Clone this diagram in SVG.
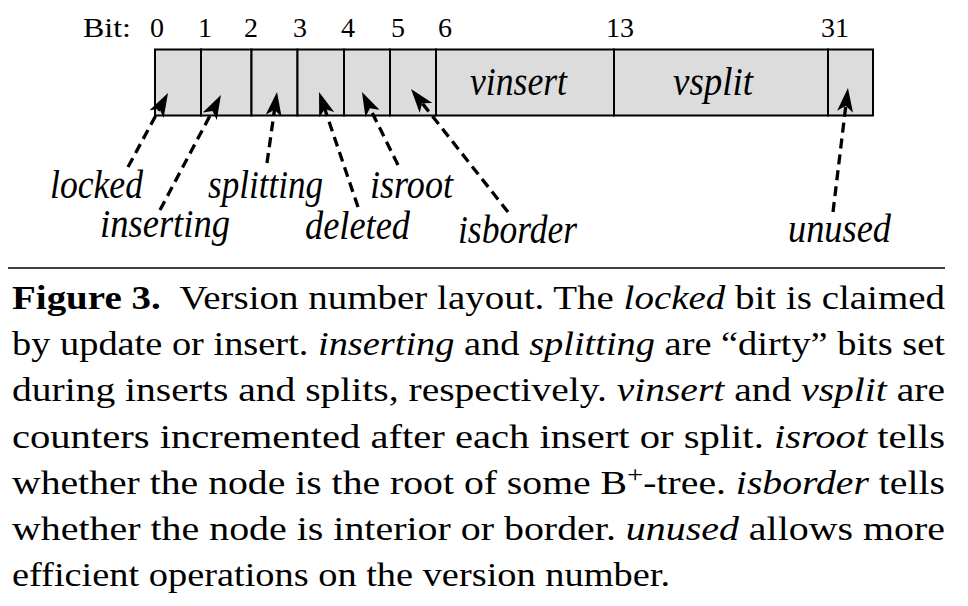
<svg xmlns="http://www.w3.org/2000/svg" width="968" height="606" viewBox="0 0 968 606">
<style>
text{font-family:"Liberation Serif","Times New Roman",Times,serif;fill:#000}
.cell{fill:#dcdcdc;stroke:#000;stroke-width:2}
.bit{font-size:28px}
.lab{font-style:italic;font-size:40px}
.cap{font-size:33px}
.it{font-style:italic}
.conn{fill:none;stroke:#000;stroke-width:3.3;stroke-dasharray:10 6}
</style>
<defs>
<marker id="ah" viewBox="0 0 24 16" markerWidth="24" markerHeight="16" refX="16" refY="8" orient="auto" markerUnits="userSpaceOnUse">
<path d="M24,8 L0,0 L6,8 L0,16 Z" fill="#000"/>
</marker>
</defs>
<rect width="968" height="606" fill="#fff"/>
<g id="bit-labels">
<text class="bit" x="83" y="37" textLength="48" lengthAdjust="spacingAndGlyphs">Bit:</text>
<text class="bit" x="157" y="37" text-anchor="middle">0</text>
<text class="bit" x="205" y="37" text-anchor="middle">1</text>
<text class="bit" x="251" y="37" text-anchor="middle">2</text>
<text class="bit" x="300" y="37" text-anchor="middle">3</text>
<text class="bit" x="348" y="37" text-anchor="middle">4</text>
<text class="bit" x="398" y="37" text-anchor="middle">5</text>
<text class="bit" x="445" y="37" text-anchor="middle">6</text>
<text class="bit" x="620" y="37" text-anchor="middle">13</text>
<text class="bit" x="835" y="37" text-anchor="middle">31</text>
</g>
<g id="version-word">
<rect id="bit0" class="cell" x="155" y="49.5" width="46" height="66"/>
<rect id="bit1" class="cell" x="201" y="49.5" width="50.5" height="66"/>
<rect id="bit2" class="cell" x="251.5" y="49.5" width="46" height="66"/>
<rect id="bit3" class="cell" x="297.5" y="49.5" width="46.5" height="66"/>
<rect id="bit4" class="cell" x="344" y="49.5" width="46" height="66"/>
<rect id="bit5" class="cell" x="390" y="49.5" width="46" height="66"/>
<g id="vinsert"><rect class="cell" x="436" y="49.5" width="178" height="66"/>
<text class="lab" x="470" y="95" textLength="97" lengthAdjust="spacingAndGlyphs">vinsert</text></g>
<g id="vsplit"><rect class="cell" x="614" y="49.5" width="214" height="66"/>
<text class="lab" x="673" y="95" textLength="80" lengthAdjust="spacingAndGlyphs">vsplit</text></g>
<rect id="bit31" class="cell" x="828" y="49.5" width="45" height="66"/>
</g>
<g id="connectors">
<line class="conn" x1="128" y1="167" x2="164.2" y2="100" marker-end="url(#ah)"/>
<line class="conn" x1="160" y1="210" x2="217.2" y2="102.1" marker-end="url(#ah)"/>
<line class="conn" x1="267" y1="163" x2="275.9" y2="99.9" marker-end="url(#ah)"/>
<line class="conn" x1="358" y1="207" x2="321.6" y2="99.6" marker-end="url(#ah)"/>
<line class="conn" x1="398" y1="165" x2="365.5" y2="99.2" marker-end="url(#ah)"/>
<line class="conn" x1="508" y1="212" x2="416" y2="95.3" marker-end="url(#ah)"/>
<line class="conn" x1="833" y1="212" x2="847" y2="95.9" marker-end="url(#ah)"/>
</g>
<g id="field-labels">
<text class="lab" id="locked" x="50" y="198" textLength="93" lengthAdjust="spacingAndGlyphs">locked</text>
<text class="lab" id="inserting" x="100" y="237" textLength="130" lengthAdjust="spacingAndGlyphs">inserting</text>
<text class="lab" id="splitting" x="208" y="198" textLength="115" lengthAdjust="spacingAndGlyphs">splitting</text>
<text class="lab" id="deleted" x="305" y="239" textLength="105" lengthAdjust="spacingAndGlyphs">deleted</text>
<text class="lab" id="isroot" x="370" y="198" textLength="83" lengthAdjust="spacingAndGlyphs">isroot</text>
<text class="lab" id="isborder" x="458" y="243" textLength="119" lengthAdjust="spacingAndGlyphs">isborder</text>
<text class="lab" id="unused" x="788" y="242" textLength="103" lengthAdjust="spacingAndGlyphs">unused</text>
</g>
<line id="rule" x1="8" y1="268" x2="945" y2="268" stroke="#000" stroke-width="1.5"/>
<g id="caption">
<text class="cap" x="12" y="309" textLength="933" lengthAdjust="spacingAndGlyphs"><tspan font-weight="bold">Figure 3.</tspan>&#160; Version number layout. The <tspan class="it">locked</tspan> bit is claimed</text>
<text class="cap" x="12" y="355" textLength="933" lengthAdjust="spacingAndGlyphs">by update or insert. <tspan class="it">inserting</tspan> and <tspan class="it">splitting</tspan> are “dirty” bits set</text>
<text class="cap" x="12" y="401" textLength="933" lengthAdjust="spacingAndGlyphs">during inserts and splits, respectively. <tspan class="it">vinsert</tspan> and <tspan class="it">vsplit</tspan> are</text>
<text class="cap" x="12" y="448" textLength="933" lengthAdjust="spacingAndGlyphs">counters incremented after each insert or split. <tspan class="it">isroot</tspan> tells</text>
<text class="cap" x="12" y="494" textLength="933" lengthAdjust="spacingAndGlyphs">whether the node is the root of some B<tspan font-size="24px" dy="-12">+</tspan><tspan dy="12">-tree. </tspan><tspan class="it">isborder</tspan> tells</text>
<text class="cap" x="12" y="540" textLength="933" lengthAdjust="spacingAndGlyphs">whether the node is interior or border. <tspan class="it">unused</tspan> allows more</text>
<text class="cap" x="12" y="586" textLength="658" lengthAdjust="spacingAndGlyphs">efficient operations on the version number.</text>
</g>
</svg>
